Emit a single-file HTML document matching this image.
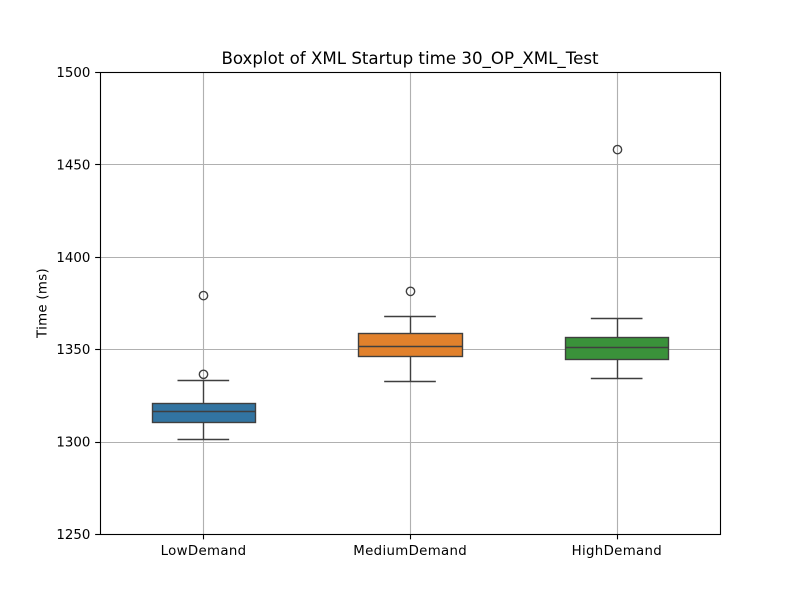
<!DOCTYPE html>
<html>
<head>
<meta charset="utf-8">
<title>Boxplot of XML Startup time 30_OP_XML_Test</title>
<style>
  html, body { margin: 0; padding: 0; background: #fff; }
  svg { display: block; font-family: "DejaVu Sans", "Liberation Sans", sans-serif; }
</style>
</head>
<body>
<svg id="chart" width="800" height="600" viewBox="0 0 800 600" xmlns="http://www.w3.org/2000/svg"></svg>
<script>
const categories = ['LowDemand', 'MediumDemand', 'HighDemand'];
const q1Values = [1310.4, 1346.1, 1344.6];
const medianValues = [1316.4, 1351.6, 1351];
const q3Values = [1320.8, 1358.6, 1356.4];
const whiskerLowValues = [1301.3, 1332.8, 1334.2];
const whiskerHighValues = [1333.3, 1368, 1366.8];
const outlierValues = [[1379, 1336.4], [1381.3], [1458]];
const yTickLabels = [1250, 1300, 1350, 1400, 1450, 1500];
const boxColors = ['#3274a1', '#e1812c', '#3a923a'];

const plotLeft = 100, plotRight = 720, plotTop = 72, plotBottom = 534;
const yMin = 1250, yMax = 1500;
const boxWidth = 0.5, capWidth = 0.25;
const lineColor = '#3f3f3f';
const svg = document.getElementById('chart');

function xScale(i) {
  return plotLeft + (i + 0.5) / categories.length * (plotRight - plotLeft);
}
function xSpan(w) {
  return w / categories.length * (plotRight - plotLeft);
}
function yScale(v) {
  return plotBottom - (v - yMin) / (yMax - yMin) * (plotBottom - plotTop);
}
function snap(p) {
  return Math.round(p) + 0.5;
}
function make(tag, attrs, text) {
  const el = document.createElementNS('http://www.w3.org/2000/svg', tag);
  for (const k in attrs) el.setAttribute(k, attrs[k]);
  if (text !== undefined) el.textContent = text;
  svg.appendChild(el);
  return el;
}
function drawLine(x1, y1, x2, y2, color, width) {
  return make('line', { x1: x1, y1: y1, x2: x2, y2: y2, stroke: color, 'stroke-width': width });
}

// background
const background = make('rect', { x: plotLeft, y: plotTop, width: plotRight - plotLeft, height: plotBottom - plotTop, fill: '#ffffff' });



// grid
yTickLabels.forEach(function (t) {
  const g = drawLine(plotLeft, snap(yScale(t)), plotRight, snap(yScale(t)), '#b0b0b0', 1.11);
  
  
});
categories.forEach(function (c, i) {
  const g = drawLine(snap(xScale(i)), plotTop, snap(xScale(i)), plotBottom, '#b0b0b0', 1.11);
  
  
});

// boxes
categories.forEach(function (c, i) {
  const cx = snap(xScale(i));
  const rawX = xScale(i);
  const halfBox = xSpan(boxWidth) / 2;
  const halfCap = xSpan(capWidth) / 2;
  const boxLeft = snap(rawX - halfBox);
  const boxRight = snap(rawX + halfBox);
  const boxTop = snap(yScale(q3Values[i]));
  const boxBottom = snap(yScale(q1Values[i]));

  const wl = drawLine(cx, boxBottom, cx, snap(yScale(whiskerLowValues[i])), lineColor, 1.39);
  
  

  const wh = drawLine(cx, boxTop, cx, snap(yScale(whiskerHighValues[i])), lineColor, 1.39);
  
  

  const cl = drawLine(rawX - halfCap, snap(yScale(whiskerLowValues[i])), rawX + halfCap, snap(yScale(whiskerLowValues[i])), lineColor, 1.39);
  
  

  const ch = drawLine(rawX - halfCap, snap(yScale(whiskerHighValues[i])), rawX + halfCap, snap(yScale(whiskerHighValues[i])), lineColor, 1.39);
  
  

  const box = make('rect', {
    x: boxLeft,
    y: boxTop,
    width: boxRight - boxLeft,
    height: boxBottom - boxTop,
    fill: boxColors[i],
    stroke: lineColor,
    'stroke-width': 1.39
  });
  
  

  const med = drawLine(boxLeft, snap(yScale(medianValues[i])), boxRight, snap(yScale(medianValues[i])), lineColor, 1.39);
  
  

  outlierValues[i].forEach(function (v) {
    const o = make('circle', { cx: cx, cy: yScale(v), r: 4.17, fill: 'none', stroke: lineColor, 'stroke-width': 1.39 });
    
    
  });
});

// frame
const frame = make('rect', { x: plotLeft + 0.5, y: plotTop + 0.5, width: plotRight - plotLeft, height: plotBottom - plotTop, fill: 'none', stroke: '#000000', 'stroke-width': 1.11 });



// y ticks
yTickLabels.forEach(function (t) {
  const tick = drawLine(plotLeft - 4.86, snap(yScale(t)), plotLeft, snap(yScale(t)), '#000000', 1.11);
  
  
  const label = make('text', { x: 90.3, y: yScale(t) + 5, 'text-anchor': 'end', 'font-size': '13.33px', fill: '#000000' }, String(t));
  
  
});

// x ticks
categories.forEach(function (c, i) {
  const tick = drawLine(snap(xScale(i)), plotBottom, snap(xScale(i)), plotBottom + 5.36, '#000000', 1.11);
  
  
  const label = make('text', { x: xScale(i) + 0.2, y: 555, 'text-anchor': 'middle', 'font-size': '13.33px', 'letter-spacing': '0.33px', fill: '#000000' }, c);
  
  
});

// titles
const title = make('text', { x: 410, y: 64, 'text-anchor': 'middle', 'font-size': '16.67px', fill: '#000000' }, 'Boxplot of XML Startup time 30_OP_XML_Test');



const yTitle = make('text', { x: 0, y: 0, transform: 'translate(46.5 303) rotate(-90)', 'text-anchor': 'middle', 'font-size': '13.33px', 'letter-spacing': '0.3px', fill: '#000000' }, 'Time (ms)');


</script>
</body>
</html>
